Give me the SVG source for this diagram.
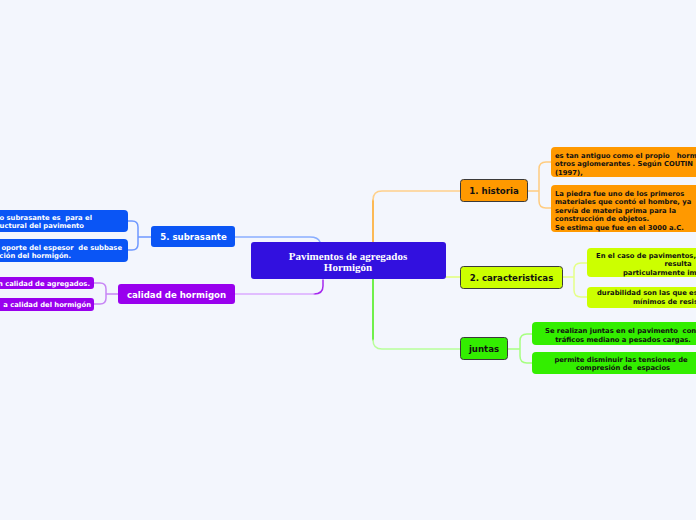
<svg xmlns="http://www.w3.org/2000/svg" width="696" height="520" viewBox="0 0 696 520">
<style>
.bg{fill:#f3f6fd}
.c{fill:none;stroke-width:1.5;stroke-linecap:round}
.t{font-family:"DejaVu Sans",Verdana,sans-serif;font-weight:bold;font-size:8.6px;fill:#111}
.tw{font-family:"DejaVu Sans",Verdana,sans-serif;font-weight:bold;font-size:8.6px;fill:#fff}
.s{font-family:"DejaVu Sans",Verdana,sans-serif;font-weight:bold;font-size:6.8px;fill:#111;white-space:pre}
.sw{font-family:"DejaVu Sans",Verdana,sans-serif;font-weight:bold;font-size:6.8px;fill:#fff;white-space:pre}
.main{font-family:"Liberation Serif","Times New Roman",serif;font-weight:bold;font-size:11px;fill:#fff}
.bd{stroke:#3a3a3a;stroke-width:1}
</style>
<rect class="bg" x="0" y="0" width="696" height="520"/>
<g id="connectors">
  <path class="c" d="M373,242 V200" stroke="#ffa41c"/>
  <path class="c" d="M373,200 Q373,191 382,191 H460" stroke="#ffd08a"/>
  <path class="c" d="M373,279 V340" stroke="#44ee11"/>
  <path class="c" d="M373,340 Q373,349 382,349 H460" stroke="#b8ff99"/>
  <path class="c" d="M445,277 H460" stroke="#e2ff7a"/>
  <path class="c" d="M235,237 H310 Q318,237 320,242" stroke="#8aaeff"/>
  <path class="c" d="M323,280 V286 Q323,294 314,294" stroke="#a529ee"/>
  <path class="c" d="M314,294 H235" stroke="#dcaaff"/>
  <path class="c" d="M528,191 H539 M551,162 H546 Q539,162 539,169 V201 Q539,208 546,208 H551" stroke="#ffcc80"/>
  <path class="c" d="M562,277 H574 M587,263 H581 Q574,263 574,270 V290 Q574,297 581,297 H587" stroke="#e5ff88"/>
  <path class="c" d="M508,349 H520 M532,334 H527 Q520,334 520,341 V356 Q520,363 527,363 H532" stroke="#a6ff80"/>
  <path class="c" d="M151,237 H138 M128,221 H132 Q138,221 138,227 V244 Q138,250 132,250 H128" stroke="#6f98ff"/>
  <path class="c" d="M118,294 H106 M94,283 H100 Q106,283 106,289 V298 Q106,304 100,304 H94" stroke="#c785f5"/>
</g>
<g id="central">
  <rect x="251" y="242" width="195" height="37" rx="3" fill="#3210df"/>
  <text class="main" x="348" y="259.5" text-anchor="middle">Pavimentos de agregados</text>
  <text class="main" x="348" y="270.5" text-anchor="middle">Hormigón</text>
</g>
<g id="historia">
  <rect class="bd" x="460.5" y="179.5" width="67" height="22" rx="3" fill="#ff9900"/>
  <text class="t" x="494" y="194" text-anchor="middle">1. historia</text>
</g>
<g id="historia-1">
  <rect x="551" y="147" width="160" height="30" rx="4" fill="#ff9900"/>
  <text class="s" x="555" y="157.5">es tan antiguo como el propio   horm</text>
  <text class="s" x="555" y="166">otros aglomerantes . Según COUTIN</text>
  <text class="s" x="555" y="174.5">(1997),</text>
</g>
<g id="historia-2">
  <rect x="551" y="185" width="160" height="47" rx="4" fill="#ff9900"/>
  <text class="s" x="555" y="195.5">La piedra fue uno de los primeros</text>
  <text class="s" x="555" y="204">materiales que contó el hombre, ya</text>
  <text class="s" x="555" y="212.5">servía de materia prima para la</text>
  <text class="s" x="555" y="221">construcción de objetos.</text>
  <text class="s" x="555" y="229.5">Se estima que fue en el 3000 a.C.</text>
</g>
<g id="caracteristicas">
  <rect class="bd" x="460.5" y="266.5" width="102" height="22" rx="3" fill="#ccff00"/>
  <text class="t" x="511.5" y="281" text-anchor="middle">2. caracteristicas</text>
</g>
<g id="caracteristicas-1">
  <rect x="587" y="248" width="130" height="29" rx="4" fill="#ccff00"/>
  <text class="s" x="596" y="257.5">En el caso de pavimentos,</text>
  <text class="s" x="678" y="266" text-anchor="middle">resulta</text>
  <text class="s" x="623" y="274.5">particularmente im</text>
</g>
<g id="caracteristicas-2">
  <rect x="587" y="287" width="130" height="21" rx="4" fill="#ccff00"/>
  <text class="s" x="597" y="294.5">durabilidad son las que es</text>
  <text class="s" x="633" y="304">mínimos de resis</text>
</g>
<g id="juntas">
  <rect class="bd" x="460.5" y="337.5" width="47" height="22" rx="3" fill="#33ee00"/>
  <text class="t" x="484" y="352" text-anchor="middle">juntas</text>
</g>
<g id="juntas-1">
  <rect x="532" y="322" width="180" height="23" rx="4" fill="#33ee00"/>
  <text class="s" x="545" y="332.5">Se realizan juntas en el pavimento  con</text>
  <text class="s" x="623" y="341.5" text-anchor="middle">tráficos mediano a pesados cargas.</text>
</g>
<g id="juntas-2">
  <rect x="532" y="352" width="180" height="22" rx="4" fill="#33ee00"/>
  <text class="s" x="621" y="361.5" text-anchor="middle">permite disminuir las tensiones de</text>
  <text class="s" x="623" y="369.5" text-anchor="middle">compresión de  espacios</text>
</g>
<g id="subrasante">
  <rect x="151" y="226" width="84" height="21" rx="3" fill="#0a55f5"/>
  <text class="tw" x="193.5" y="240" text-anchor="middle">5. subrasante</text>
</g>
<g id="subrasante-1">
  <rect x="-40" y="210" width="168" height="22" rx="4" fill="#0a55f5"/>
  <text class="sw" x="92" y="219.5" text-anchor="end">o subrasante es  para el</text>
  <text class="sw" x="84" y="227.5" text-anchor="end">uctural del pavimento</text>
</g>
<g id="subrasante-2">
  <rect x="-40" y="239" width="168" height="23" rx="4" fill="#0a55f5"/>
  <text class="sw" x="122" y="249.5" text-anchor="end">oporte del espesor  de subbase</text>
  <text class="sw" x="71" y="257.5" text-anchor="end">ción del hormigón.</text>
</g>
<g id="calidad">
  <rect x="118" y="284" width="117" height="20" rx="3" fill="#9900ee"/>
  <text class="tw" x="176.5" y="297.5" text-anchor="middle">calidad de hormigon</text>
</g>
<g id="calidad-1">
  <rect x="-40" y="277" width="134" height="12" rx="3" fill="#9900ee"/>
  <text class="sw" x="90" y="285.5" text-anchor="end">n calidad de agregados.</text>
</g>
<g id="calidad-2">
  <rect x="-40" y="298" width="134" height="13" rx="3" fill="#9900ee"/>
  <text class="sw" x="91" y="307" text-anchor="end">a calidad del hormigón</text>
</g>
</svg>
